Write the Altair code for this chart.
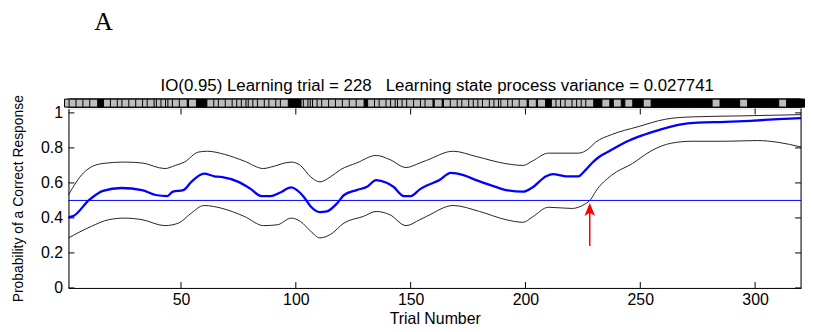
import altair as alt
import pandas as pd

# ---------------- data ----------------
# learning-state curve (mode) and 90% bounds
mode_t = [1, 3, 10, 16, 24, 33, 39, 44, 46.5, 51, 54.5, 60, 64.5, 67.5, 75, 80, 85, 89, 93, 98,
          100.5, 103.5, 106.5, 110.5, 113.5, 118, 121, 126.5, 131, 135, 139.5, 142.5, 147, 150,
          154, 157, 162.5, 167.5, 173, 178.5, 186, 191.5, 199, 203, 209, 212, 217.5, 223, 226,
          229, 232, 237.5, 243.5, 250.5, 258, 266.5, 275, 287, 298, 310, 320]
mode_p = [0.405, 0.41, 0.503, 0.555, 0.571, 0.559, 0.531, 0.525, 0.55, 0.559, 0.606, 0.653, 0.638,
          0.634, 0.606, 0.569, 0.525, 0.525, 0.544, 0.574, 0.559, 0.52, 0.465, 0.433, 0.437, 0.484,
          0.531, 0.559, 0.578, 0.616, 0.601, 0.578, 0.525, 0.525, 0.563, 0.585, 0.616, 0.657, 0.644,
          0.616, 0.582, 0.559, 0.55, 0.574, 0.638, 0.65, 0.638, 0.638, 0.672, 0.714, 0.748, 0.789,
          0.832, 0.87, 0.902, 0.932, 0.945, 0.949, 0.955, 0.964, 0.97]

upper_t = [1, 7.5, 15.5, 25.5, 33, 43, 47.5, 51.5, 57.5, 61.5, 69, 77.5, 86, 89, 98, 102, 106.5,
           110.5, 115, 119.5, 126.5, 135, 141, 148, 154, 157, 168.5, 178.5, 191.5, 199, 203, 210,
           223, 227.5, 230.5, 237.5, 249, 261, 272, 294, 320]
upper_p = [0.531, 0.657, 0.71, 0.719, 0.714, 0.682, 0.70, 0.719, 0.776, 0.781, 0.763, 0.725, 0.682,
           0.69, 0.719, 0.70, 0.634, 0.606, 0.634, 0.676, 0.714, 0.757, 0.733, 0.688, 0.714, 0.729,
           0.781, 0.751, 0.71, 0.70, 0.725, 0.77, 0.77, 0.795, 0.832, 0.876, 0.921, 0.964, 0.977,
           0.983, 0.99]

lower_t = [1, 11, 18.5, 25.5, 33, 43, 49, 54.5, 60, 67.5, 77.5, 86, 92, 98, 102, 106.5, 110.5, 115,
           121, 129.5, 135, 141, 148, 154, 157, 168.5, 180, 191.5, 199, 203, 210, 220.5, 223, 226,
           228.5, 230.5, 237.5, 246.5, 255, 263.5, 272.5, 287, 301, 310, 320]
lower_p = [0.286, 0.352, 0.39, 0.399, 0.39, 0.356, 0.371, 0.428, 0.471, 0.456, 0.409, 0.356, 0.361,
           0.399, 0.38, 0.324, 0.286, 0.305, 0.371, 0.409, 0.437, 0.418, 0.356, 0.39, 0.409, 0.471,
           0.437, 0.39, 0.375, 0.405, 0.461, 0.454, 0.461, 0.48, 0.507, 0.55, 0.644, 0.71, 0.785,
           0.827, 0.838, 0.838, 0.842, 0.832, 0.805]

# trial-by-trial responses (1 = correct, 0 = incorrect), 10 trials per string
response_blocks = [
    "0101101101", "1011111011", "0110101101", "1011010110", "0101001011",
    "0111011111", "1101101011", "0110101010", "0101011010", "1101011111",
    "1110010001", "0101101101", "1011011011", "1101101011", "0101001010",
    "1101101011", "1011101101", "1010110101", "0101101010", "0110101101",
    "1101110111", "1101010101", "1010101011", "1111011110", "1111011111",
    "1101111111", "1111111111", "1111111111", "1101111111", "1111011111",
    "1111111111", "1011111111",
]

chance_level = 0.5
learning_trial = 228
arrow_tail = 0.24
arrow_head = 0.444
bar_level = 1.056

x_ticks = [50, 100, 150, 200, 250, 300]
y_ticks = [0, 0.2, 0.4, 0.6, 0.8, 1]

title_text = "IO(0.95) Learning trial = 228   Learning state process variance = 0.027741"
panel_label = "A"

# ---------------- frames ----------------
resp = [int(c) for c in "".join(response_blocks)]
resp_df = pd.DataFrame({"trial": list(range(1, len(resp) + 1)), "correct": resp,
                        "p": [bar_level] * len(resp)})
mode_df = pd.DataFrame({"trial": mode_t, "p": mode_p})
upper_df = pd.DataFrame({"trial": upper_t, "p": upper_p})
lower_df = pd.DataFrame({"trial": lower_t, "p": lower_p})
xt_df = pd.DataFrame({"trial": x_ticks})
yt_df = pd.DataFrame({"p": y_ticks})
arrow_df = pd.DataFrame({"trial": [learning_trial], "p": [arrow_tail], "p2": [arrow_head]})
tip_df = pd.DataFrame({"trial": [learning_trial], "p": [arrow_head]})
# keep the runs of spaces visible in SVG text
title_shown = title_text.replace("  ", "\u00a0\u00a0")

W, H = 739, 181
FONT = "Liberation Sans"

xs = alt.Scale(domain=[1, 320], nice=False, zero=False)
ys = alt.Scale(domain=[0, 1.025], nice=False, zero=False)

x_axis = alt.Axis(
    values=x_ticks, ticks=False, grid=False, labelFontSize=16, labelFont=FONT,
    labelColor="#000", labelPadding=4, domainColor="#000", title="Trial Number",
    titleFont=FONT, titleFontSize=16, titleFontWeight="normal", titleColor="#000",
    titlePadding=3, labelFlush=False, labelOverlap=False)
y_axis = alt.Axis(
    values=y_ticks, format="~g", ticks=False, grid=False, labelFontSize=16, labelFont=FONT,
    labelColor="#000", labelPadding=6, domainColor="#000", labelOverlap=False, labelFlush=False,
    labelBound=False, title="Probability of a Correct Response", titleFont=FONT, titleFontSize=14,
    titleFontWeight="normal", titleColor="#000", titlePadding=15)
X = alt.X("trial:Q", scale=xs, axis=x_axis)
Y = alt.Y("p:Q", scale=ys, axis=y_axis)

lower_line = alt.Chart(lower_df).mark_line(color="#222", strokeWidth=1, interpolate="monotone").encode(x=X, y=Y)
upper_line = alt.Chart(upper_df).mark_line(color="#222", strokeWidth=1, interpolate="monotone").encode(x=X, y=Y)
mode_line = alt.Chart(mode_df).mark_line(color="#0000ff", strokeWidth=2.3, interpolate="monotone").encode(x=X, y=Y)

half_line = alt.Chart(pd.DataFrame({"p": [chance_level]})).mark_rule(color="#0000ff", strokeWidth=1).encode(y=Y)

correct_sq = alt.Chart(resp_df).transform_filter("datum.correct == 1").mark_square(
    size=64, color="#000", fill="#000", stroke="#000", strokeWidth=1, opacity=1).encode(x=X, y=Y)
wrong_sq = alt.Chart(resp_df).transform_filter("datum.correct == 0").mark_square(
    size=64, fill="#bdbdbd", stroke="#000", strokeWidth=1, opacity=1, filled=True).encode(x=X, y=Y)

tick_len = 6
bottom_ticks = alt.Chart(xt_df).mark_rule(color="#000", strokeWidth=1).encode(
    x=X, y=alt.value(H), y2=alt.value(H - tick_len))
top_ticks = alt.Chart(xt_df).mark_rule(color="#000", strokeWidth=1).encode(
    x=X, y=alt.value(0), y2=alt.value(tick_len))
left_ticks = alt.Chart(yt_df).mark_rule(color="#000", strokeWidth=1).encode(
    y=Y, x=alt.value(0), x2=alt.value(tick_len))
right_ticks = alt.Chart(yt_df).mark_rule(color="#000", strokeWidth=1).encode(
    y=Y, x=alt.value(W), x2=alt.value(W - tick_len))
right_border = alt.Chart(xt_df.head(1)).mark_rule(color="#000", strokeWidth=1).encode(
    x=alt.value(W), y=alt.value(0), y2=alt.value(H))

arrow_shaft = alt.Chart(arrow_df).mark_rule(color="#ff0000", strokeWidth=1.5).encode(
    x=X, y=Y, y2="p2:Q")
arrow_tip = alt.Chart(tip_df).mark_point(
    shape="M0,-1L0.75,0.8L0,0.35L-0.75,0.8Z", size=210, filled=True, color="#ff0000", opacity=1).encode(
    x=X, y=Y)

title_mark = alt.Chart(pd.DataFrame({"s": [title_shown]})).mark_text(
    font=FONT, fontSize=17, color="#000", align="center", baseline="alphabetic").encode(
    text="s:N", x=alt.value(372), y=alt.value(-18))
label_mark = alt.Chart(pd.DataFrame({"s": [panel_label]})).mark_text(
    font="Liberation Serif", fontSize=26, color="#000", align="left", baseline="alphabetic").encode(
    text="s:N", x=alt.value(26), y=alt.value(-79))

chart = alt.layer(
    lower_line, upper_line, mode_line, half_line, correct_sq, wrong_sq,
    bottom_ticks, top_ticks, left_ticks, right_ticks, right_border,
    arrow_shaft, arrow_tip, title_mark, label_mark,
).properties(
    width=W, height=H,
    autosize=alt.AutoSizeParams(type="none"),
    padding={"left": 61, "top": 100, "right": 4, "bottom": 40},
).configure_view(stroke=None).configure_axis(labelOverlap=False).configure(background="#ffffff")

chart.save("out.html", embed_options={"renderer": "svg", "actions": False})
